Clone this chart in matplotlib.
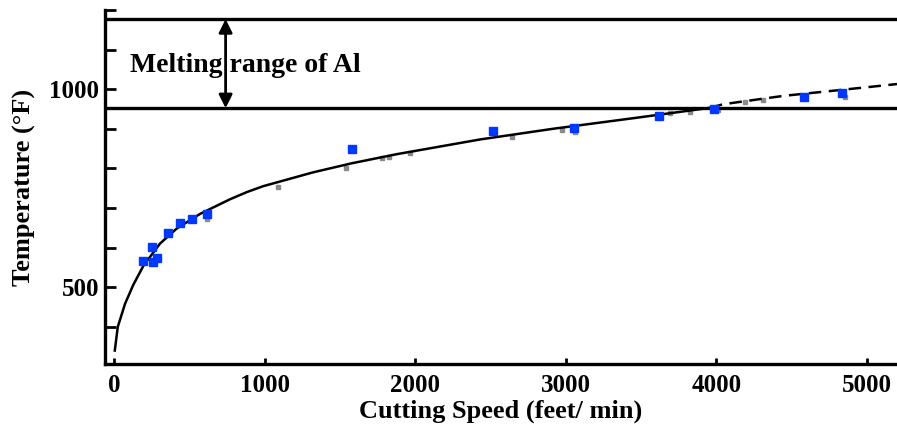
import numpy as np
import matplotlib
matplotlib.use('Agg')
import matplotlib.pyplot as plt
from matplotlib.ticker import MultipleLocator

plt.rcParams['font.family'] = ['Liberation Serif', 'DejaVu Serif']
plt.rcParams['font.weight'] = 'bold'

# measured points (blue squares)
speed_meas = [191, 254, 261, 284, 361, 440, 520, 616, 1579, 2515, 3057, 3622, 3987, 4583, 4833]
temp_meas = [567, 601, 564, 574, 636, 663, 671, 685, 849, 894, 901, 933, 949, 980, 990]

# faint grey points along the curve
speed_grey = [618, 1089, 1541, 1780, 1826, 1966, 2643, 2975, 3062, 3693, 3826, 4012, 4191, 4311, 4855]
temp_grey = [672, 753, 801, 826, 829, 839, 879, 897, 892, 940, 942, 947, 968, 973, 980]

# fitted curve (solid) and extrapolation (dashed)
speed_fit = [5, 25, 73, 128, 195, 305, 416, 571, 770, 881, 990, 1322, 1580, 1879, 2430, 2915, 3473, 3958]
temp_fit = [340, 400, 458, 506, 554, 610, 648, 685, 722, 740, 755, 790, 813, 836, 873, 900, 928, 953]
speed_ext = [3958, 4045, 4443, 5001, 5200]
temp_ext = [953, 962, 983, 1005, 1013]

melt_low, melt_high = 952, 1177

fig = plt.figure(figsize=(8.97, 4.32), dpi=100)
ax = fig.add_axes([105/897, 68/432, 792/897, 354/432])

ax.plot(speed_fit, temp_fit, color='black', lw=1.8, zorder=3, solid_joinstyle='round')
ax.plot(speed_ext, temp_ext, color='black', lw=1.8, ls=(0, (5, 3)), zorder=3)
ax.plot(speed_grey, temp_grey, 's', color='#8a8a8a', ms=3, zorder=2)
ax.plot(speed_meas, temp_meas, 's', color='#0038ff', ms=6, mec='#0038ff', zorder=4)

ax.axhline(melt_low, color='black', lw=2.4, zorder=2)
ax.axhline(melt_high, color='black', lw=2.4, zorder=2)

ax.text(106, 1061, 'Melting range of Al', fontsize=20, fontweight='bold',
        va='center', ha='left', zorder=2)
ax.annotate('', xy=(741, melt_high), xytext=(741, melt_low),
            arrowprops=dict(arrowstyle='<|-|>', color='black', lw=2,
                            mutation_scale=20, shrinkA=0, shrinkB=0), zorder=5)

ax.set_xlim(-60, 5200)
ax.set_ylim(306, 1200)
ax.set_xticks([0, 1000, 2000, 3000, 4000, 5000])
ax.set_yticks([500, 1000])
ax.yaxis.set_minor_locator(MultipleLocator(100))

for side in ['top', 'right']:
    ax.spines[side].set_visible(False)
for side in ['left', 'bottom']:
    ax.spines[side].set_linewidth(2.4)

ax.tick_params(axis='y', which='both', direction='in', length=8, width=2, labelsize=18, pad=4)
ax.tick_params(axis='x', direction='in', length=4, width=2, labelsize=18, pad=7)

ax.set_xlabel('Cutting Speed (feet/ min)', fontsize=19, fontweight='bold', labelpad=2)
ax.set_ylabel('Temperature (\u00b0F)', fontsize=19, fontweight='bold', labelpad=10)

fig.savefig('out.png', dpi=100)
